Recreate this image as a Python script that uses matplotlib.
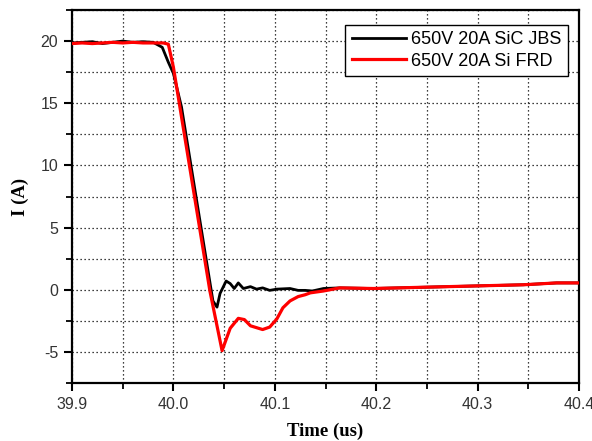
import matplotlib
matplotlib.use("Agg")
import matplotlib.pyplot as plt
from matplotlib.ticker import MultipleLocator, FormatStrFormatter

# SiC JBS (black)
t_sic = [39.900, 39.910, 39.920, 39.930, 39.940, 39.950, 39.960, 39.970, 39.980,
         39.989, 39.995, 40.000, 40.008, 40.039, 40.043, 40.046,
         40.052, 40.056, 40.060, 40.064, 40.069, 40.076, 40.082, 40.088, 40.095,
         40.102, 40.115, 40.123, 40.130, 40.137, 40.148, 40.164, 40.197, 40.246,
         40.295, 40.345, 40.378, 40.400]
i_sic = [19.85, 19.90, 19.95, 19.80, 19.90, 20.00, 19.90, 19.95, 19.90,
         19.50, 18.30, 17.40, 14.70, -0.90, -1.40, -0.30,
         0.70, 0.50, 0.10, 0.55, 0.10, 0.25, 0.05, 0.15, -0.05,
         0.05, 0.10, -0.05, -0.05, -0.10, 0.10, 0.15, 0.10, 0.20,
         0.30, 0.40, 0.55, 0.55]

# Si FRD (red)
t_si = [39.900, 39.910, 39.920, 39.930, 39.940, 39.950, 39.960, 39.970, 39.980,
        39.990, 39.995, 40.000, 40.036, 40.048, 40.056, 40.064,
        40.070, 40.076, 40.082, 40.088, 40.095, 40.102, 40.108, 40.115, 40.123,
        40.130, 40.135, 40.148, 40.164, 40.197, 40.246, 40.295, 40.345, 40.378,
        40.400]
i_si = [19.80, 19.85, 19.80, 19.85, 19.90, 19.85, 19.90, 19.85, 19.85,
        19.85, 19.75, 17.90, -0.10, -4.90, -3.10, -2.30,
        -2.40, -2.90, -3.05, -3.20, -3.00, -2.35, -1.45, -0.90, -0.55,
        -0.40, -0.25, -0.10, 0.15, 0.10, 0.20, 0.30, 0.40, 0.55,
        0.55]

labels = ["650V 20A SiC JBS", "650V 20A Si FRD"]

fig = plt.figure(figsize=(5.92, 4.41), dpi=100)
ax = fig.add_axes([72/592, 1-383/441, 507/592, 373/441])

ax.plot(t_sic, i_sic, color="black", lw=2.0, label=labels[0], zorder=3)
ax.plot(t_si, i_si, color="#ff0000", lw=2.3, label=labels[1], zorder=4)

ax.set_xlim(39.9, 40.4)
ax.set_ylim(-7.5, 22.5)
ax.xaxis.set_major_locator(MultipleLocator(0.1))
ax.xaxis.set_minor_locator(MultipleLocator(0.05))
ax.yaxis.set_major_locator(MultipleLocator(5))
ax.yaxis.set_minor_locator(MultipleLocator(2.5))
ax.xaxis.set_major_formatter(FormatStrFormatter("%.1f"))
ax.yaxis.set_major_formatter(FormatStrFormatter("%d"))

ax.grid(True, which="both", color="black", linestyle=(0, (1, 2.2)), linewidth=0.9)

for s in ax.spines.values():
    s.set_linewidth(1.6)
ax.tick_params(which="major", direction="out", length=6, width=1.5,
               labelsize=11.5, labelcolor="#333333", pad=4)
ax.tick_params(which="minor", direction="out", length=4, width=1.3)
for lab in ax.get_xticklabels() + ax.get_yticklabels():
    lab.set_family("Liberation Sans")

ax.set_xlabel("Time (us)", family="Liberation Serif", weight="bold", fontsize=13.5, labelpad=8)
ax.set_ylabel("I (A)", family="Liberation Serif", weight="bold", fontsize=13.5, labelpad=8)

leg = ax.legend(loc="upper right", bbox_to_anchor=(0.978, 0.96), borderaxespad=0,
                fancybox=False, framealpha=1, edgecolor="black", handlelength=3.0,
                handletextpad=0.3, labelspacing=0.25, borderpad=0.35,
                prop={"family": "Liberation Sans", "size": 13})
leg.get_frame().set_linewidth(1.0)
leg.set_zorder(5)

fig.savefig("out.png", dpi=100)
